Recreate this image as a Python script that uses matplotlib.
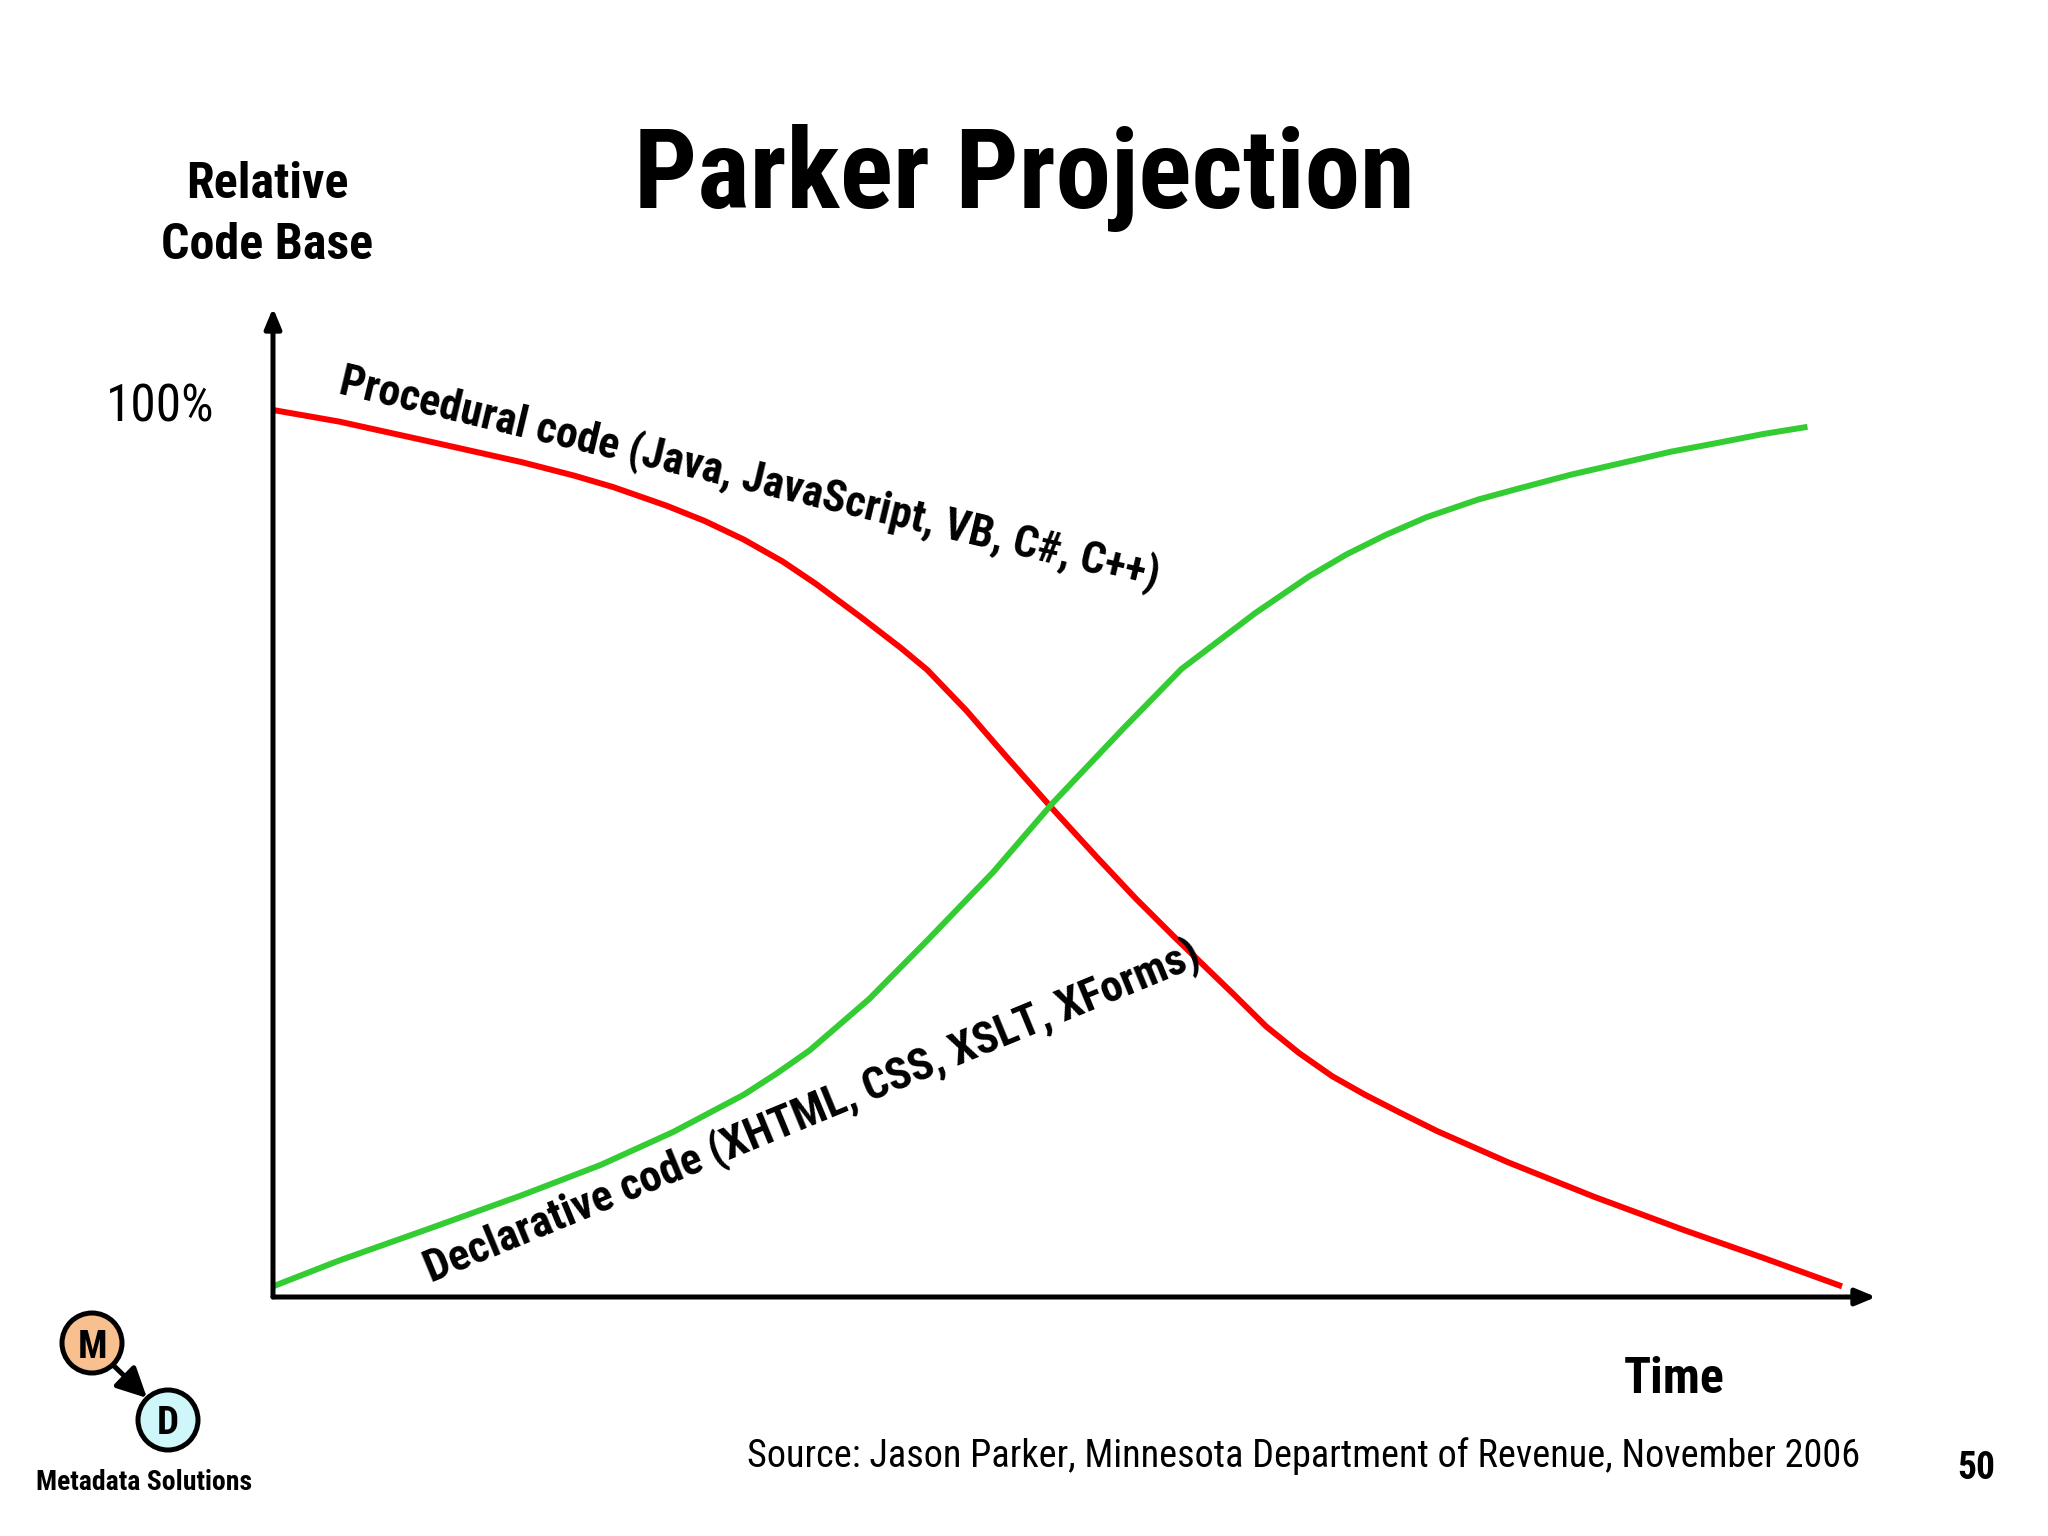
import os
import matplotlib
matplotlib.use("Agg")
import matplotlib.pyplot as plt
from matplotlib import font_manager as fm
from matplotlib.patches import Circle, FancyArrowPatch

# ---------------- data ----------------
red_time = [0, 4.2, 10.1, 15.9, 19.2, 21.7, 25.1, 27.5, 30.0, 32.5, 34.6, 37.5, 40.0,
            41.7, 44.2, 46.7, 49.6, 52.5, 55.0, 57.5, 61.3, 63.3, 65.4, 67.5, 69.6,
            71.7, 74.2, 78.7, 84.2, 90.0, 95.0, 100]
red_vals = [100, 98.7, 96.4, 94.1, 92.6, 91.3, 89.2, 87.5, 85.4, 82.9, 80.4, 76.6, 73.2,
            70.7, 66.1, 61.0, 55.2, 49.6, 44.9, 40.5, 34.0, 30.5, 27.5, 24.9, 22.8,
            20.9, 18.7, 15.2, 11.3, 7.5, 4.4, 1.2]

green_time = [0, 4.2, 10.1, 15.9, 20.9, 25.5, 30.0, 32.1, 34.2, 38.0, 41.7, 45.9, 49.7,
              54.2, 57.9, 62.6, 66.0, 68.4, 70.9, 73.5, 76.8, 79.5, 82.7, 85.9, 89.1,
              92.1, 95.0, 97.8]
green_vals = [1.2, 4.1, 7.8, 11.5, 14.9, 18.6, 22.8, 25.2, 27.8, 33.6, 40.2, 47.9, 55.7,
              64.1, 70.8, 77.1, 81.2, 83.7, 85.9, 87.9, 89.9, 91.2, 92.7, 94.0, 95.3,
              96.3, 97.3, 98.1]

title = "Parker Projection"
ylabel_lines = ["Relative", "Code Base"]
ytick_label = "100%"
xlabel = "Time"
red_label = "Procedural code (Java, JavaScript, VB, C#, C++)"
green_label = "Declarative code (XHTML, CSS, XSLT, XForms)"
source = "Source: Jason Parker, Minnesota Department of Revenue, November 2006"
page_no = "50"
logo_text = "Metadata Solutions"

# ---------------- fonts: prefer a narrow sans ----------------
def find_narrow():
    cands = [("Liberation Sans Narrow", "normal"), ("Arial Narrow", "normal"),
             ("Nimbus Sans Narrow", "normal"), ("Roboto Condensed", "normal"),
             ("Open Sans Condensed", "normal"), ("Roboto", "condensed"),
             ("Open Sans", "condensed")]
    for fam, stretch in cands:
        try:
            path = fm.findfont(fm.FontProperties(family=fam, stretch=stretch, weight="bold"),
                               fallback_to_default=False)
        except Exception:
            continue
        base = os.path.basename(path).lower()
        if stretch == "normal" or "condensed" in base or "narrow" in base:
            return fam, stretch
    return None, None

FAM, STRETCH = find_narrow()
if FAM is None:
    FAM, STRETCH, S = "Liberation Sans", "normal", 0.85
else:
    S = 1.0
plt.rcParams["font.family"] = [FAM, "DejaVu Sans"]

W, H = 2048, 1536
fig = plt.figure(figsize=(W / 100, H / 100), dpi=100)
fig.patch.set_facecolor("white")

# main axes (pixel geometry of reference)
x0, x1, ytop, ybot = 273, 1876, 308, 1297
ax = fig.add_axes([x0 / W, (H - ybot) / H, (x1 - x0) / W, (ybot - ytop) / H])
ax.set_xlim(0, (x1 - x0) / 15.69)
ax.set_ylim(0, (ybot - ytop) / 8.87)
ax.set_axis_off()

ax.plot(red_time, red_vals, color="#FF0000", lw=4.3, solid_capstyle="butt", clip_on=False, zorder=3)
ax.plot(green_time, green_vals, color="#33CC33", lw=4.3, solid_capstyle="butt", clip_on=False, zorder=3)

arrow_style = "-|>,head_length=1.2,head_width=0.5"
ax.annotate("", xy=(0, 1), xytext=(0, 0), xycoords="axes fraction",
            arrowprops=dict(arrowstyle=arrow_style, lw=3.6, color="black",
                            shrinkA=0, shrinkB=0, mutation_scale=10), annotation_clip=False)
ax.annotate("", xy=(1, 0), xytext=(0, 0), xycoords="axes fraction",
            arrowprops=dict(arrowstyle=arrow_style, lw=3.6, color="black",
                            shrinkA=0, shrinkB=0, mutation_scale=10), annotation_clip=False)

# overlay in pixel coordinates for text & logo
ov = fig.add_axes([0, 0, 1, 1])
ov.set_xlim(0, W)
ov.set_ylim(H, 0)
ov.set_axis_off()

def T(x, y, s, size, weight="bold", ha="center", va="baseline", **kw):
    ov.text(x, y, s, fontsize=size * S, fontweight=weight, fontstretch=STRETCH,
            ha=ha, va=va, color="black", **kw)

T(1024, 208, title, 80)
T(267, 198, ylabel_lines[0], 36)
T(267, 259, ylabel_lines[1], 36)
T(160, 421, ytick_label, 37, weight="normal")
T(337, 393, red_label, 31.5, ha="left", rotation=-13.4, rotation_mode="anchor")
T(431, 1283, green_label, 32, ha="left", rotation=22.4, rotation_mode="anchor")
T(1674, 1393, xlabel, 36)
T(1860, 1467, source, 27.5, weight="normal", ha="right")
T(1976, 1479, page_no, 27)

# logo
ov.add_patch(Circle((92, 1343), 30, facecolor="#F8C08F", edgecolor="black", lw=3.6, zorder=3))
ov.add_patch(Circle((168, 1420), 30, facecolor="#CFF7FA", edgecolor="black", lw=3.6, zorder=3))
ov.add_patch(FancyArrowPatch((112, 1364), (147, 1398), arrowstyle="-|>,head_length=1.8,head_width=0.9",
                             mutation_scale=10, lw=3.6, color="black", shrinkA=0, shrinkB=0, zorder=2))
T(92, 1343, "M", 28, va="center_baseline")
T(168, 1420, "D", 28, va="center_baseline")
T(144, 1490, logo_text, 20)

fig.savefig("out.png", dpi=100, facecolor="white")
